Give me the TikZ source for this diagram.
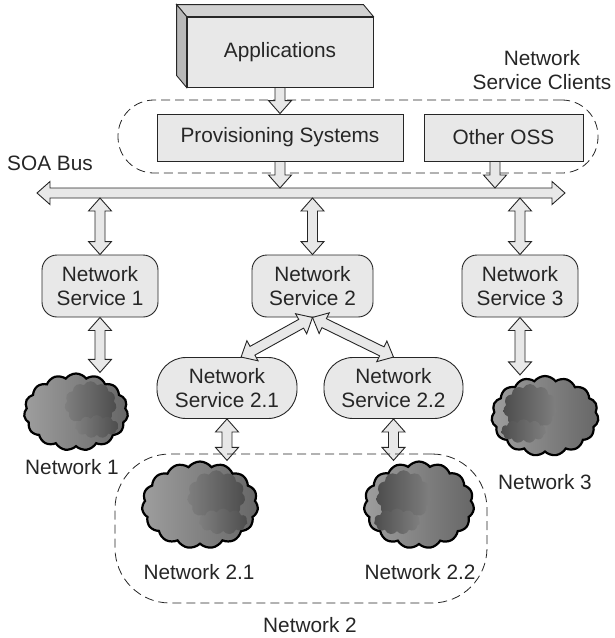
\documentclass[tikz,border=0pt]{standalone}
\usepackage{fontspec}
\setmainfont{Liberation Sans}
\usetikzlibrary{calc,shapes.symbols}

\definecolor{boxgray}{gray}{0.91}
\definecolor{topgray}{gray}{0.82}
\definecolor{sidegray}{gray}{0.72}

\tikzset{
  lbl/.style={font=\fontsize{20.8pt}{24pt}\selectfont, align=center, text=black!85},
  plainbox/.style={lbl, draw=black!85, line width=0.9pt, fill=boxgray, inner sep=0pt},
  svcbox/.style={plainbox, rounded corners=15pt, minimum width=116pt, minimum height=62pt},
  subsvc/.style={plainbox, rounded corners=29pt, minimum width=140pt, minimum height=61pt},
  group/.style={draw=black!85, line width=0.8pt, dash pattern=on 9pt off 5pt},
  fat/.style={draw=black!85, line width=0.9pt, fill=boxgray},
  netcloud/.style={cloud, cloud puffs=15, cloud puff arc=105, draw=black, line width=2.2pt,
    inner sep=0pt, left color=black!38, right color=black!60},
  lobe/.style={cloud, cloud puffs=11, cloud puff arc=125, inner sep=0pt}
}

% #1-start #2-end, head at the end only
\newcommand{\fatarrow}[2]{%
  \draw[fat] let \p1=($(#2)-(#1)$), \n1={veclen(\x1,\y1)}, \n2={atan2(\y1,\x1)} in
    ($(#1)+(\n2+90:5pt)$) -- ($(#1)+(\n2:\n1-13pt)+(\n2+90:5pt)$)
    -- ($(#1)+(\n2:\n1-13pt)+(\n2+90:11.5pt)$) -- (#2)
    -- ($(#1)+(\n2:\n1-13pt)+(\n2-90:11.5pt)$) -- ($(#1)+(\n2:\n1-13pt)+(\n2-90:5pt)$)
    -- ($(#1)+(\n2-90:5pt)$) -- cycle;
}
% #1-start #2-end, heads at both ends
\newcommand{\fatarrows}[2]{%
  \draw[fat] let \p1=($(#2)-(#1)$), \n1={veclen(\x1,\y1)}, \n2={atan2(\y1,\x1)} in
    (#1) -- ($(#1)+(\n2:13pt)+(\n2+90:11.5pt)$) -- ($(#1)+(\n2:13pt)+(\n2+90:5pt)$)
    -- ($(#1)+(\n2:\n1-13pt)+(\n2+90:5pt)$) -- ($(#1)+(\n2:\n1-13pt)+(\n2+90:11.5pt)$)
    -- (#2)
    -- ($(#1)+(\n2:\n1-13pt)+(\n2-90:11.5pt)$) -- ($(#1)+(\n2:\n1-13pt)+(\n2-90:5pt)$)
    -- ($(#1)+(\n2:13pt)+(\n2-90:5pt)$) -- ($(#1)+(\n2:13pt)+(\n2-90:11.5pt)$) -- cycle;
}
% #1-name #2-position #3-width #4-height #5-side of the dark lobes (1 or -1)
\newcommand{\netcloud}[5]{%
  \node[netcloud, minimum width=#3, minimum height=#4] (#1) at (#2) {};
  \ifnum#5>0
    \tikzset{lobe/.append style={left color=black!50, right color=black!70}}
  \else
    \tikzset{lobe/.append style={left color=black!70, right color=black!50}}
  \fi
  \node[lobe, minimum width=0.5*#3, minimum height=0.6*#4] (#1-a)
    at ($(#1.center)+(#5*0.14*#3,-0.1*#4)$) {};
  \node[lobe, minimum width=0.42*#3, minimum height=0.3*#4] (#1-b)
    at ($(#1.center)+(#5*0.2*#3,0.19*#4)$) {};
}

\begin{document}
\begin{tikzpicture}[x=1pt,y=-1pt]
  \useasboundingbox (0,0) rectangle (614,638);

  % clients
  \node[plainbox, minimum width=186pt, minimum height=70pt] (apps) at (280,52) {Applications};
  \draw[fat, fill=topgray] (apps.north west) -- ++(-10,-12) -- ($(apps.north east)+(-10,-12)$) -- (apps.north east) -- cycle;
  \draw[fat, fill=sidegray] (apps.north west) -- ++(-10,-12) -- ($(apps.south west)+(-10,-12)$) -- (apps.south west) -- cycle;

  \node[group, rounded corners=36pt, minimum width=480pt, minimum height=73pt] (clients) at (358,136.5) {};
  \node[lbl] (clientslbl) at (542,70) {Network\\Service Clients};
  \node[plainbox, minimum width=246pt, minimum height=47pt] (prov) at (280,137.5) {Provisioning Systems};
  \node[plainbox, minimum width=159pt, minimum height=47pt] (oss) at (503.5,137.5) {Other OSS};
  \coordinate (ossout) at ([xshift=-8.5pt]oss.south);

  % bus
  \coordinate (busW) at (37,193);
  \coordinate (busE) at (565,193);
  \coordinate (bustop) at (0,188);
  \coordinate (busbot) at (0,198);
  \node[lbl] (buslbl) at (50,163) {SOA Bus};
  \fatarrows{busW}{busE}

  \fatarrow{apps.south}{prov.north}
  \fatarrow{prov.south}{prov.south |- bustop}
  \fatarrow{ossout}{ossout |- bustop}

  % network services
  \node[svcbox] (ns1) at (100,286) {Network\\Service 1};
  \node[svcbox, minimum width=121pt] (ns2) at (312.5,286) {Network\\Service 2};
  \node[svcbox] (ns3) at (520,286) {Network\\Service 3};
  \foreach \s in {ns1,ns2,ns3}
    \fatarrows{\s.north |- busbot}{\s.north};

  \node[subsvc] (ns21) at (227,388) {Network\\Service 2.1};
  \node[subsvc, minimum width=139pt] (ns22) at (393.5,388) {Network\\Service 2.2};
  \coordinate (ns21top) at ($(ns21.north)!0.2!(ns21.north east)$);
  \fatarrows{ns2.south}{ns21top}
  \fatarrows{ns2.south}{ns22.north}

  % networks
  \netcloud{net1}{76,412}{104}{77}{1}
  \netcloud{net21}{200,505}{116}{87}{1}
  \netcloud{net22}{419,505}{110}{87}{-1}
  \netcloud{net3}{545,416}{107}{80}{-1}

  \fatarrows{ns1.south}{ns1.south |- net1.north}
  \fatarrows{ns21.south}{ns21.south |- net21.north}
  \fatarrows{ns22.south}{ns22.south |- net22.north}
  \fatarrows{ns3.south}{ns3.south |- net3.north}

  \node[group, rounded corners=55pt, minimum width=372pt, minimum height=149pt] (net2) at (301,528.5) {};

  \node[lbl] (net1lbl) at (72,467) {Network 1};
  \node[lbl] (net3lbl) at (545,482) {Network 3};
  \node[lbl] (net21lbl) at (199,572) {Network 2.1};
  \node[lbl] (net22lbl) at (420,572) {Network 2.2};
  \node[lbl] (net2lbl) at (310,625) {Network 2};
\end{tikzpicture}
\end{document}
